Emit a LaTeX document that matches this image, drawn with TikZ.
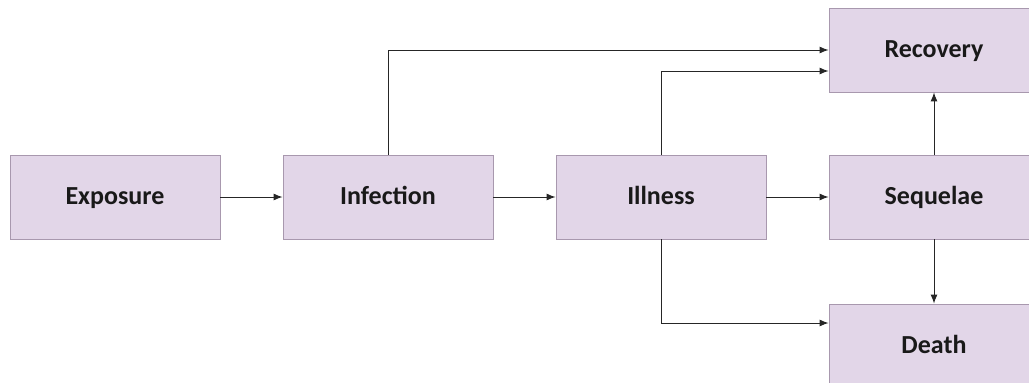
\documentclass[tikz,border=0pt]{standalone}
\usepackage{fontspec}
\setmainfont{Carlito}
\usetikzlibrary{arrows.meta}
\definecolor{boxfill}{HTML}{E2D6E8}
\definecolor{boxline}{HTML}{A898AE}
\begin{document}
\begin{tikzpicture}[x=1pt,y=-1pt,
  box/.style={draw=boxline,fill=boxfill,line width=0.8pt,minimum width=210pt,minimum height=84pt,inner sep=0pt,text height=19pt,text depth=5pt,font=\fontsize{26}{30}\selectfont\bfseries,text=black!90},
  arr/.style={draw=black!85,line width=1pt,-{Latex[length=9pt,width=7pt]}}]
\useasboundingbox (0,0) rectangle (1029,383);
\clip (0,0) rectangle (1029,383);
\node[box] (exp) at (115,197) {Exposure};
\node[box] (inf) at (388,197) {Infection};
\node[box] (ill) at (661,197) {Illness};
\node[box] (seq) at (934,197) {Sequelae};
\node[box] (rec) at (934,50) {Recovery};
\node[box] (dea) at (934,346) {Death};
\draw[arr] (exp.east) -- (inf.west);
\draw[arr] (inf.east) -- (ill.west);
\draw[arr] (ill.east) -- (seq.west);
\draw[arr] (seq.north) -- (rec.south);
\draw[arr] (seq.south) -- (dea.north);
\draw[arr] (inf.north) |- (rec.west);
\draw[arr] (ill.north) |- ([yshift=-21pt]rec.west);
\draw[arr] (ill.south) |- ([yshift=23pt]dea.west);
\end{tikzpicture}
\end{document}
